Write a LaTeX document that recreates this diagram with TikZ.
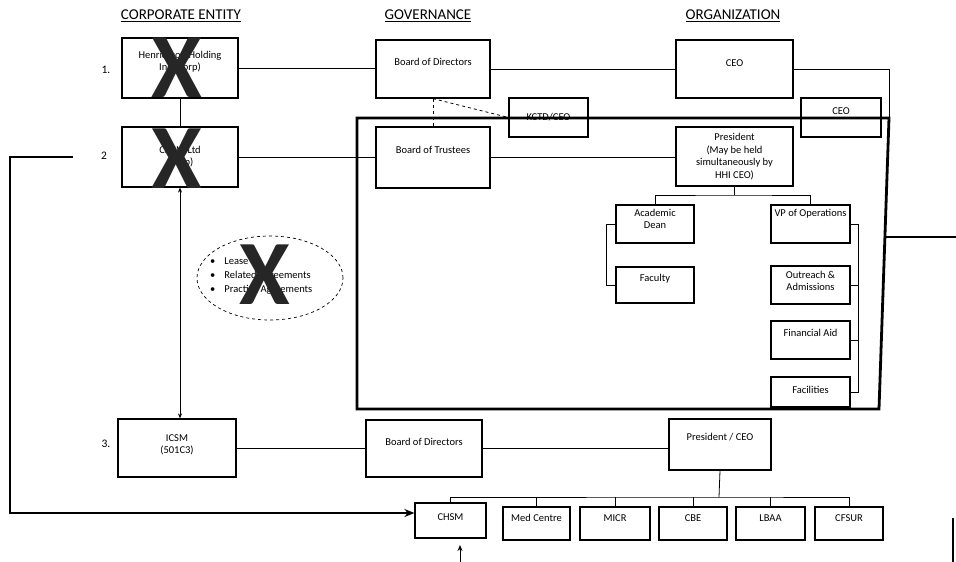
\documentclass[tikz,border=0pt]{standalone}
\usepackage{fontspec}
\setmainfont{Carlito}
\usetikzlibrary{arrows.meta,shapes.geometric}
\begin{document}
\begin{tikzpicture}[x=1pt,y=-1pt,
  box/.style={draw, line width=1.2pt, inner sep=1pt, align=center, font=\fontsize{10.5}{12}\selectfont},
  lift/.style={text depth=#1},
  link/.style={draw, line width=0.8pt},
  dlink/.style={draw, line width=0.8pt, dashed},
  hdr/.style={font=\fontsize{15}{17}\selectfont},
  num/.style={font=\fontsize{11.5}{13}\selectfont},
  cross/.style={font=\bfseries\fontsize{92}{92}\selectfont, text=black!85, inner sep=0pt},
  bigline/.style={draw, line width=2.4pt},
  frame/.style={draw, line width=2.8pt}
]
\useasboundingbox (0,0) rectangle (956,562);

% headers
\node[hdr] (h1) at (181,16) {\underline{CORPORATE ENTITY}};
\node[hdr] (h2) at (428,16) {\underline{GOVERNANCE}};
\node[hdr] (h3) at (733,16) {\underline{ORGANIZATION}};

% numbers
\node[num] (n1) at (106,70) {1.};
\node[num] (n2) at (104,156) {2};
\node[num] (n3) at (106,444) {3.};

% corporate entity column
\node[box, minimum width=116pt, minimum height=60pt, lift=14pt] (hh) at (180,68) {Henrickson Holding\\Inc (Corp)};
\node[box, minimum width=116pt, minimum height=60pt] (chsmltd) at (180,157) {CHSM Ltd\\(Corp)};
\node[box, minimum width=118pt, minimum height=58pt, lift=8pt] (icsm) at (177,448) {ICSM\\(501C3)};

% governance column
\node[box, minimum width=114pt, minimum height=58pt, lift=14pt] (bod1) at (433,69) {Board of Directors};
\node[box, minimum width=114pt, minimum height=61pt, lift=15pt] (bot) at (433,157.5) {Board of Trustees};
\node[box, minimum width=79pt, minimum height=39pt] (kctd) at (548.5,117.5) {KCTD/CEO};
\node[box, minimum width=116pt, minimum height=57pt, lift=13pt] (bod2) at (424,448.5) {Board of Directors};

% organization column
\node[box, minimum width=117pt, minimum height=58pt, lift=12pt] (ceo1) at (734.5,69) {CEO};
\node[box, minimum width=80pt, minimum height=39pt, lift=13pt] (ceo2) at (841,117.5) {CEO};
\node[box, minimum width=117pt, minimum height=59pt, font=\fontsize{10.5}{12.5}\selectfont] (pres) at (734.5,156.5) {President\\(May be held\\simultaneously by\\HHI CEO)};
\node[box, minimum width=78pt, minimum height=38pt, lift=10pt] (dean) at (655,224) {Academic\\Dean};
\node[box, minimum width=78pt, minimum height=36pt, lift=14pt] (fac) at (655,285) {Faculty};
\node[box, minimum width=79pt, minimum height=38pt, lift=22pt] (vp) at (810.5,224) {VP of Operations};
\node[box, minimum width=79pt, minimum height=38pt, lift=8pt] (outr) at (810.5,285) {Outreach \&\\Admissions};
\node[box, minimum width=79pt, minimum height=38pt, lift=14pt] (fin) at (810.5,340) {Financial Aid};
\node[box, minimum width=79pt, minimum height=30pt, lift=5pt] (facil) at (810.5,392) {Facilities};
\node[box, minimum width=102pt, minimum height=51pt, lift=15pt] (pceo) at (720,444.5) {President / CEO};

% bottom row
\node[box, minimum width=71pt, minimum height=35pt, lift=6pt] (chsm) at (450.5,520.5) {CHSM};
\node[box, minimum width=67pt, minimum height=33pt, lift=11pt] (med) at (536.5,523.5) {Med Centre};
\node[box, minimum width=70pt, minimum height=33pt, lift=11pt] (micr) at (615,523.5) {MICR};
\node[box, minimum width=68pt, minimum height=33pt, lift=11pt] (cbe) at (693,523.5) {CBE};
\node[box, minimum width=69pt, minimum height=33pt, lift=11pt] (lbaa) at (770.5,523.5) {LBAA};
\node[box, minimum width=68pt, minimum height=33pt, lift=11pt] (cfsur) at (849,523.5) {CFSUR};

% ellipse with agreements
\node[draw, dashed, line width=0.7pt, ellipse, minimum width=146pt, minimum height=84pt] (ell) at (270,278) {};
\node[align=left, anchor=west, inner sep=0pt, font=\fontsize{10.5}{14}\selectfont] (agr) at (210,276) {\textbullet\hspace{9pt}Lease\\ \textbullet\hspace{9pt}Related Agreements\\ \textbullet\hspace{9pt}Practice Agreements};

% thick frame
\coordinate (ftl) at (357,118);
\coordinate (ftr) at (889,118);
\coordinate (fbr) at (879,409);
\coordinate (fbl) at (357,409);
\draw[frame] (ftl) -- (ftr) -- (fbr) -- (fbl) -- cycle;

% connectors - top
\draw[link] (hh) -- (chsmltd);
\draw[link] (hh.east) -- (hh.east -| bod1.west);
\draw[link] (chsmltd.east) -- (chsmltd.east -| bot.west);
\draw[link] (bod1.east) -- (bod1.east -| ceo1.west);
\draw[link] (ceo1.east) -- (ceo1.east -| ftr) -- (ftr);
\draw[dlink] (bod1.south) -- (bot.north);
\draw[dlink] (bod1.south) -- (kctd.west);
\draw[link] (bot.east) -- (bot.east -| pres.west);

% president tree
\coordinate (pbus) at (734.5,195);
\draw[link] (pres.south) -- (pbus);
\draw[link] (dean.north) |- (pbus) -| (vp.north);
\coordinate (dbus) at (606,224);
\draw[link] (dean.west) -- (dbus) |- (fac.west);
\coordinate (vbus) at (858,224);
\draw[link] (vp.east) -- (vbus) |- (facil.east);
\draw[link] (outr.east) -- (outr.east -| vbus);
\draw[link] (fin.east) -- (fin.east -| vbus);

% right exits
\coordinate (frr) at (885,237);
\coordinate (ext) at (956,237);
\draw[line width=1.6pt] (frr) -- (ext);
\coordinate (br1) at (953,518);
\coordinate (br2) at (953,562);
\draw[line width=2.2pt] (br1) -- (br2);

% vertical double arrow
\draw[link, {Stealth[length=5pt,width=4pt]}-{Stealth[length=5pt,width=4pt]}] (chsmltd.south) -- (chsmltd.south |- icsm.north);

% bottom connectors
\draw[link] (icsm.east) -- (icsm.east -| bod2.west);
\draw[link] (bod2.east) -- (bod2.east -| pceo.west);
\coordinate (bbus) at (719,497);
\draw[link] (pceo.south) -- (bbus);
\draw[link] (chsm.north) |- (bbus) -| (cfsur.north);
\foreach \b in {med,micr,cbe,lbaa} \draw[link] (\b.north) -- (\b.north |- bbus);

% big loop arrow
\coordinate (l1) at (73,157);
\coordinate (l2) at (10,157);
\coordinate (l3) at (10,513);
\draw[bigline, -{Stealth[length=10pt,width=8pt]}] (l1) -- (l2) -- (l3) -- (l3 -| chsm.west);

% small up arrow
\coordinate (ua) at (460,562);
\coordinate (ub) at (460,545);
\draw[line width=1pt, -{Stealth[length=6pt,width=5pt]}] (ua) -- (ub);

% crosses
\node[cross] (x1) at (177,68) {X};
\node[cross] (x2) at (177,159) {X};
\node[cross] (x3) at (265,275) {X};
\end{tikzpicture}
\end{document}
